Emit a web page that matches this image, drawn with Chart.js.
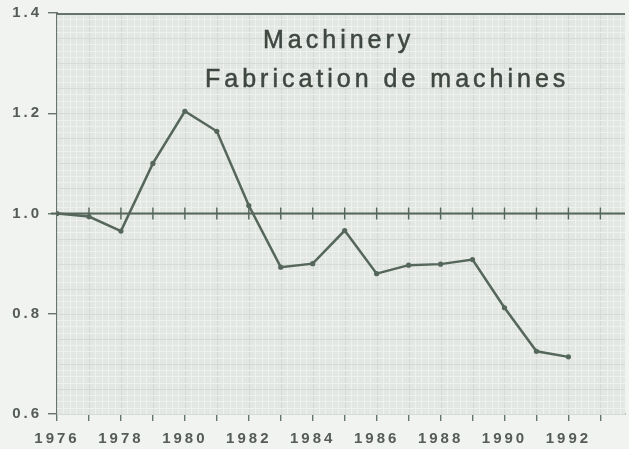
<!DOCTYPE html>
<html>
<head>
<meta charset="utf-8">
<script src="https://cdn.jsdelivr.net/npm/chart.js@4/dist/chart.umd.min.js"></script>
<style>
html,body{margin:0;padding:0;background:#f1f3f1;}
#wrap{width:629px;height:449px;position:relative;}
</style>
</head>
<body>
<div id="wrap"><canvas id="c" width="629" height="449"></canvas></div>
<script>
// ---- data ----
const years = [1976,1977,1978,1979,1980,1981,1982,1983,1984,1985,1986,1987,1988,1989,1990,1991,1992];
const values = [1.000,0.994,0.965,1.100,1.204,1.164,1.016,0.893,0.900,0.966,0.880,0.897,0.899,0.908,0.812,0.725,0.714];
const titleLines = ["Machinery","Fabrication de machines"];
const referenceValue = 1.0;
const xMin = 1976, xMax = 1993.77;
const yMin = 0.6, yMax = 1.4;
const labelledYears = [1976,1978,1980,1982,1984,1986,1988,1990,1992];

const lineColor = '#55665b';
const axisColor = '#66756b';
const textColor = '#555b57';
const titleColor = '#3f4741';

const decor = {
  id:'decor',
  beforeDraw(chart){
    chart.ctx.letterSpacing = '3px';
  },
  beforeDatasetsDraw(chart){
    const {ctx, chartArea:a, scales:{x,y}} = chart;
    ctx.save();
    ctx.fillStyle = '#e3e7e4';
    ctx.fillRect(a.left, a.top, a.right-a.left, a.bottom-a.top);
    // fine graph-paper grid
    ctx.lineWidth = 1;
    for (let v = xMin; v <= xMax; v += 0.2) {
      const px = Math.round(x.getPixelForValue(v)) + 0.5;
      ctx.strokeStyle = (Math.round((v - xMin) * 5) % 5 === 0) ? '#d5dad6' : '#eef1ee';
      ctx.beginPath(); ctx.moveTo(px, a.top); ctx.lineTo(px, a.bottom); ctx.stroke();
    }
    for (let v = yMin; v <= yMax + 1e-9; v += 0.0125) {
      const py = Math.round(y.getPixelForValue(v)) + 0.5;
      ctx.strokeStyle = (Math.round((v - yMin) / 0.0125) % 4 === 0) ? '#d5dad6' : '#eef1ee';
      ctx.beginPath(); ctx.moveTo(a.left, py); ctx.lineTo(a.right, py); ctx.stroke();
    }
    // top border
    ctx.strokeStyle = axisColor; ctx.lineWidth = 2;
    ctx.beginPath(); ctx.moveTo(a.left, a.top+1); ctx.lineTo(a.right, a.top+1); ctx.stroke();
    // reference line at 1.0 with year ticks
    const ry = y.getPixelForValue(referenceValue);
    ctx.strokeStyle = lineColor; ctx.lineWidth = 2.2;
    ctx.beginPath(); ctx.moveTo(a.left - 6, ry); ctx.lineTo(a.right, ry); ctx.stroke();
    ctx.lineWidth = 1.4;
    for (let yr = xMin + 1; yr <= xMax; yr++) {
      const px = x.getPixelForValue(yr);
      ctx.beginPath(); ctx.moveTo(px, ry - 6); ctx.lineTo(px, ry + 6); ctx.stroke();
    }
    ctx.restore();
  },
  afterDraw(chart){
    const {ctx} = chart;
    ctx.save();
    ctx.fillStyle = titleColor;
    ctx.strokeStyle = titleColor;
    ctx.lineWidth = 0.5;
    ctx.font = '25px "Liberation Sans", Arial, sans-serif';
    ctx.letterSpacing = '4px';
    ctx.textBaseline = 'alphabetic';
    ctx.textAlign = 'left';
    ctx.fillText(titleLines[0], 263, 48);
    ctx.strokeText(titleLines[0], 263, 48);
    ctx.fillText(titleLines[1], 205, 87);
    ctx.strokeText(titleLines[1], 205, 87);
    ctx.restore();
    ctx.letterSpacing = '0px';
  }
};

new Chart(document.getElementById('c'), {
  type:'line',
  data:{
    datasets:[{
      data: years.map((yr,i)=>({x:yr, y:values[i]})),
      borderColor: lineColor,
      backgroundColor: lineColor,
      borderWidth: 2.5,
      pointRadius: 2.6,
      pointBorderWidth: 0,
      tension: 0
    }]
  },
  options:{
    responsive:false,
    animation:false,
    layout:{padding:{top:13,right:0,left:0,bottom:0}},
    plugins:{legend:{display:false},tooltip:{enabled:false},title:{display:false}},
    scales:{
      x:{
        type:'linear', min:xMin, max:xMax,
        afterBuildTicks(s){ s.ticks = years.concat([1993]).map(v=>({value:v})); },
        afterFit(s){ s.height = 35; s.paddingLeft = 0; s.paddingRight = 0; },
        ticks:{
          autoSkip:false, maxRotation:0, padding:9,
          color:textColor,
          font:{family:'"Liberation Sans", Arial, sans-serif', size:15, weight:'bold'},
          callback:(v)=> labelledYears.includes(v) ? String(v) : ''
        },
        grid:{drawOnChartArea:false, drawTicks:true, tickLength:7, color:axisColor, lineWidth:1.4},
        border:{display:true, color:axisColor, width:2}
      },
      y:{
        type:'linear', min:yMin, max:yMax,
        afterFit(s){ s.width = 57; s.paddingTop = 0; s.paddingBottom = 0; },
        ticks:{
          stepSize:0.2, padding:6,
          color:textColor,
          font:{family:'"Liberation Sans", Arial, sans-serif', size:15, weight:'bold'},
          callback:(v)=> Number(v).toFixed(1)
        },
        grid:{drawOnChartArea:false, drawTicks:true, tickLength:9, color:axisColor, lineWidth:1.4},
        border:{display:true, color:axisColor, width:2}
      }
    }
  },
  plugins:[decor]
});
</script>
</body>
</html>
